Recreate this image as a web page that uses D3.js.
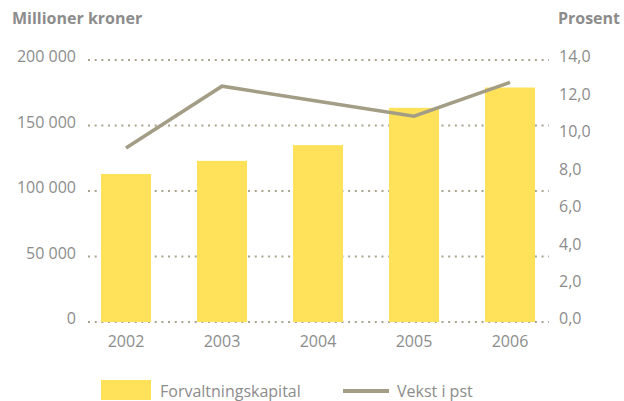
<!DOCTYPE html>
<html><head>
  <meta charset="utf-8">
  <script src="https://d3js.org/d3.v7.min.js"></script>
  <style>
  body { margin: 0; background: #fff; }
  text { font-family: 'Open Sans', Arial, sans-serif; fill: #8c8c8c; }
  .title { font-weight: bold; font-size: 16px; }
  .tick-label { font-size: 16px; }
  </style>
</head>
<body>
  <svg id="plot" width="624" height="401"></svg>
  <script>
    // data
    const years = ["2002", "2003", "2004", "2005", "2006"]
    const kapital = [113000, 123000, 135000, 163500, 179000]
    const vekst = [9.3, 12.6, 11.8, 11.0, 12.8]
    const leftTicks = [0, 50000, 100000, 150000, 200000]
    const rightTicks = [0, 2, 4, 6, 8, 10, 12, 14]

    const svg = d3.select("#plot")
    const barColor = "#ffe15a"
    const lineColor = "#a39d86"

    const x = d3.scaleBand().domain(years).range([78, 558]).paddingInner(0.479).paddingOuter(0.2395)
    const yLeft = d3.scaleLinear().domain([0, 200000]).range([322, 60])
    const yRight = d3.scaleLinear().domain([0, 14]).range([322, 60])

    // dotted gridlines
    svg.append("g").selectAll("line").data(leftTicks)
      .join("line")
      .attr("x1", 88).attr("x2", 549)
      .attr("y1", d => yLeft(d)).attr("y2", d => yLeft(d))
      .attr("stroke", "#a8a38c")
      .attr("stroke-width", 2)
      .attr("stroke-dasharray", "2,4.67")

    // bars
    svg.append("g").selectAll("rect").data(years)
      .join("rect")
      .attr("x", d => x(d))
      .attr("y", (d, i) => yLeft(kapital[i]))
      .attr("width", x.bandwidth())
      .attr("height", (d, i) => yLeft(0) - yLeft(kapital[i]))
      .attr("fill", barColor)

    // growth line
    const line = d3.line()
      .x((d, i) => x(years[i]) + x.bandwidth() / 2)
      .y(d => yRight(d))
    svg.append("path").datum(vekst)
      .attr("d", line)
      .attr("fill", "none")
      .attr("stroke", lineColor)
      .attr("stroke-width", 3.5)

    // axes
    const fmtLeft = d => d3.format(",")(d).replace(/,/g, " ")
    const fmtRight = d => d3.format(".1f")(d).replace(".", ",")

    const leftAxis = svg.append("g").attr("transform", "translate(76,0)")
      .call(d3.axisLeft(yLeft).tickValues(leftTicks).tickFormat(fmtLeft).tickSize(0).tickPadding(0))
    const rightAxis = svg.append("g").attr("transform", "translate(559,0)")
      .call(d3.axisRight(yRight).tickValues(rightTicks).tickFormat(fmtRight).tickSize(0).tickPadding(0))
    const bottomAxis = svg.append("g").attr("transform", "translate(0,322)")
      .call(d3.axisBottom(x).tickSize(0).tickPadding(14))

    svg.selectAll(".domain").remove()
    svg.selectAll(".tick text")
      .attr("class", "tick-label")
      .attr("fill", "#8c8c8c")
      .style("font-family", "'Open Sans', Arial, sans-serif")
      .style("font-size", "16px")
    leftAxis.selectAll(".tick text").attr("dy", "0.12em")
    rightAxis.selectAll(".tick text").attr("dy", "0.12em")

    // axis titles
    svg.append("text").attr("class", "title").attr("x", 12).attr("y", 24).text("Millioner kroner")
    svg.append("text").attr("class", "title").attr("x", 620).attr("y", 24)
      .attr("text-anchor", "end").text("Prosent")

    // legend
    const legend = svg.append("g")
    legend.append("rect").attr("x", 101).attr("y", 380).attr("width", 50).attr("height", 20).attr("fill", barColor)
    legend.append("text").attr("class", "tick-label").attr("x", 160).attr("y", 397).text("Forvaltningskapital")
    legend.append("line").attr("x1", 343).attr("x2", 389).attr("y1", 391).attr("y2", 391)
      .attr("stroke", lineColor).attr("stroke-width", 4)
    legend.append("text").attr("class", "tick-label").attr("x", 397).attr("y", 397).text("Vekst i pst")
  </script>
</body>
</html>
